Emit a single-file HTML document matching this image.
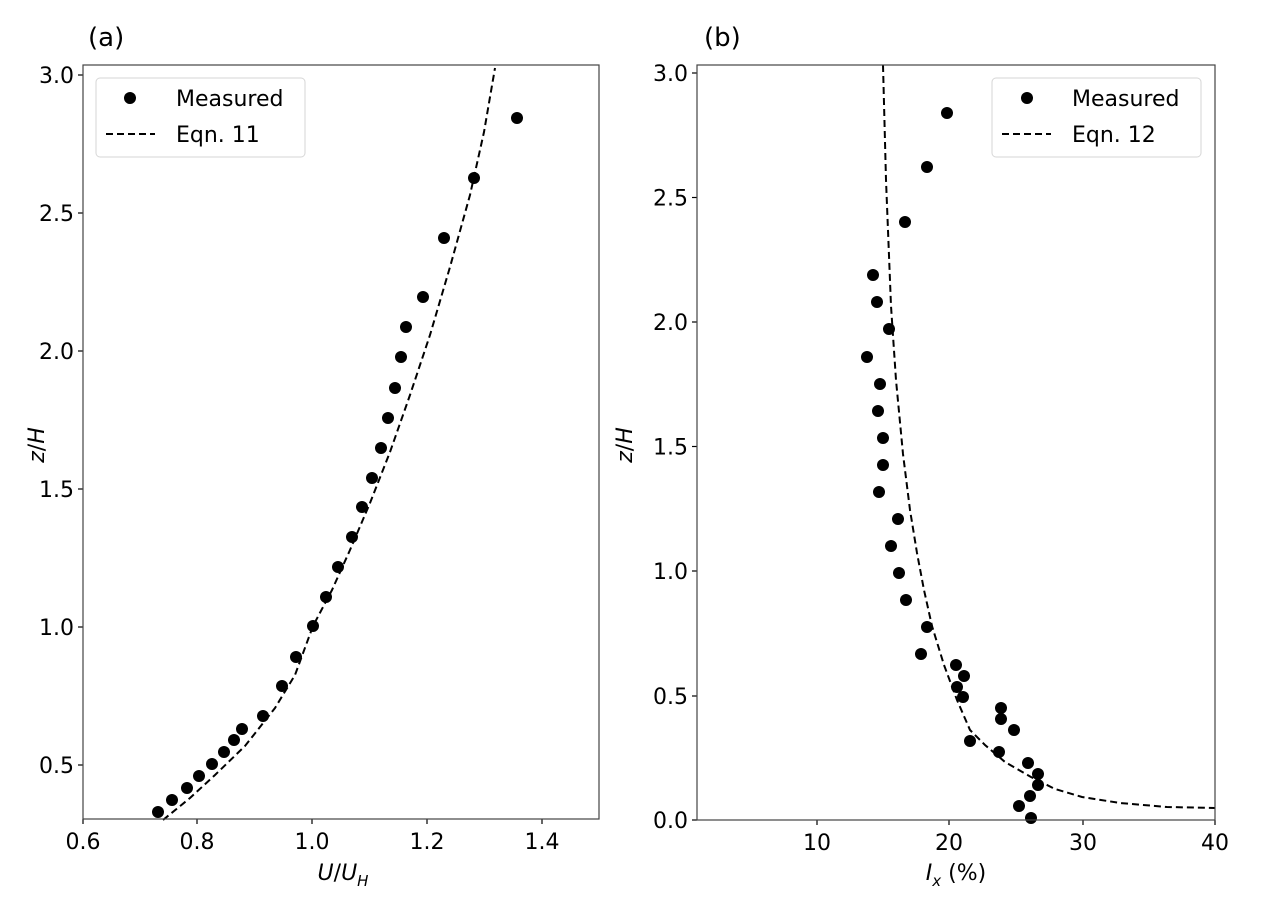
<!DOCTYPE html>
<html><head><meta charset="utf-8"><style>
body{margin:0;background:#fff}
svg text{font-family:"DejaVu Sans","Liberation Sans",sans-serif;fill:#000}
</style></head><body>
<svg width="1280" height="898" xmlns="http://www.w3.org/2000/svg">
<rect width="1280" height="898" fill="#fff"/>
<text x="88" y="46" font-size="26">(a)</text>
<text x="704" y="46" font-size="26">(b)</text>

<!-- Left panel -->
<g stroke="#000" stroke-width="1.2">
<line x1="83" y1="819" x2="83" y2="824"/><line x1="197" y1="819" x2="197" y2="824"/><line x1="312" y1="819" x2="312" y2="824"/><line x1="427" y1="819" x2="427" y2="824"/><line x1="542" y1="819" x2="542" y2="824"/>
<line x1="78" y1="75" x2="83" y2="75"/><line x1="78" y1="213" x2="83" y2="213"/><line x1="78" y1="351" x2="83" y2="351"/><line x1="78" y1="489" x2="83" y2="489"/><line x1="78" y1="627" x2="83" y2="627"/><line x1="78" y1="765" x2="83" y2="765"/>
</g>
<g font-size="22" text-anchor="middle">
<text x="83" y="849">0.6</text><text x="197" y="849">0.8</text><text x="312" y="849">1.0</text><text x="427" y="849">1.2</text><text x="542" y="849">1.4</text>
</g>
<g font-size="22" text-anchor="end">
<text x="74" y="83">3.0</text><text x="74" y="221">2.5</text><text x="74" y="359">2.0</text><text x="74" y="497">1.5</text><text x="74" y="635">1.0</text><text x="74" y="773">0.5</text>
</g>
<text x="343" y="880" font-size="22" text-anchor="middle"><tspan font-style="italic">U</tspan>/<tspan font-style="italic">U</tspan><tspan font-style="italic" font-size="15" dy="6">H</tspan></text>
<text transform="translate(44,445) rotate(-90)" font-size="22" text-anchor="middle" font-style="italic">z<tspan font-style="normal">/</tspan>H</text>
<polyline fill="none" stroke="#000" stroke-width="2" stroke-dasharray="7,4" points="163,820 190,798 215,775 245,746 275,708 295,675 313,626 332,590 350,550 370,503 390,452 410,395 430,335 450,267 470,195 484,132 495,68"/>
<g fill="#000">
<circle cx="158" cy="812" r="6"/><circle cx="172" cy="800" r="6"/><circle cx="187" cy="788" r="6"/><circle cx="199" cy="776" r="6"/><circle cx="212" cy="764" r="6"/><circle cx="224" cy="752" r="6"/><circle cx="234" cy="740" r="6"/><circle cx="242" cy="729" r="6"/><circle cx="263" cy="716" r="6"/><circle cx="282" cy="686" r="6"/><circle cx="296" cy="657" r="6"/><circle cx="313" cy="626" r="6"/><circle cx="326" cy="597" r="6"/><circle cx="338" cy="567" r="6"/><circle cx="352" cy="537" r="6"/><circle cx="362" cy="507" r="6"/><circle cx="372" cy="478" r="6"/><circle cx="381" cy="448" r="6"/><circle cx="388" cy="418" r="6"/><circle cx="395" cy="388" r="6"/><circle cx="401" cy="357" r="6"/><circle cx="406" cy="327" r="6"/><circle cx="423" cy="297" r="6"/><circle cx="444" cy="238" r="6"/><circle cx="474" cy="178" r="6"/><circle cx="517" cy="118" r="6"/>
</g>
<rect x="83" y="65" width="516" height="754" fill="none" stroke="#444" stroke-width="1.2"/>
<rect x="96" y="78" width="209" height="79" rx="4" fill="#fff" fill-opacity="0.8" stroke="#d6d6d6" stroke-width="1"/>
<circle cx="130" cy="98" r="6" fill="#000"/>
<line x1="106" y1="134" x2="155" y2="134" stroke="#000" stroke-width="2" stroke-dasharray="7,4"/>
<text x="176" y="106" font-size="22">Measured</text>
<text x="176" y="142" font-size="22">Eqn. 11</text>

<!-- Right panel -->
<g stroke="#000" stroke-width="1.2">
<line x1="817" y1="820" x2="817" y2="825"/><line x1="949" y1="820" x2="949" y2="825"/><line x1="1083" y1="820" x2="1083" y2="825"/><line x1="1215" y1="820" x2="1215" y2="825"/>
<line x1="692" y1="820" x2="697" y2="820"/><line x1="692" y1="696" x2="697" y2="696"/><line x1="692" y1="571" x2="697" y2="571"/><line x1="692" y1="446.5" x2="697" y2="446.5"/><line x1="692" y1="322" x2="697" y2="322"/><line x1="692" y1="197.5" x2="697" y2="197.5"/><line x1="692" y1="73" x2="697" y2="73"/>
</g>
<g font-size="22" text-anchor="middle">
<text x="817" y="850">10</text><text x="949" y="850">20</text><text x="1083" y="850">30</text><text x="1215" y="850">40</text>
</g>
<g font-size="22" text-anchor="end">
<text x="688" y="828">0.0</text><text x="688" y="704">0.5</text><text x="688" y="579">1.0</text><text x="688" y="454.5">1.5</text><text x="688" y="330">2.0</text><text x="688" y="205.5">2.5</text><text x="688" y="81">3.0</text>
</g>
<text x="956" y="880" font-size="22" text-anchor="middle"><tspan font-style="italic">I</tspan><tspan font-style="italic" font-size="15" dy="6">x</tspan><tspan dy="-6"> (%)</tspan></text>
<text transform="translate(632,445) rotate(-90)" font-size="22" text-anchor="middle" font-style="italic">z<tspan font-style="normal">/</tspan>H</text>
<polyline fill="none" stroke="#000" stroke-width="2" stroke-dasharray="7,4" points="883,65 886,180 891,306 896,380 903,454 910,510 917,553 924,590 932,626 944,665 957,700 970,730 985,745 1005,762 1031,777 1055,789 1082,797 1120,803 1167,807 1215,808"/>
<g fill="#000">
<circle cx="947" cy="113" r="6"/><circle cx="927" cy="167" r="6"/><circle cx="905" cy="222" r="6"/><circle cx="873" cy="275" r="6"/><circle cx="877" cy="302" r="6"/><circle cx="889" cy="329" r="6"/><circle cx="867" cy="357" r="6"/><circle cx="880" cy="384" r="6"/><circle cx="878" cy="411" r="6"/><circle cx="883" cy="438" r="6"/><circle cx="883" cy="465" r="6"/><circle cx="879" cy="492" r="6"/><circle cx="898" cy="519" r="6"/><circle cx="891" cy="546" r="6"/><circle cx="899" cy="573" r="6"/><circle cx="906" cy="600" r="6"/><circle cx="927" cy="627" r="6"/><circle cx="921" cy="654" r="6"/><circle cx="956" cy="665" r="6"/><circle cx="964" cy="676" r="6"/><circle cx="957" cy="687" r="6"/><circle cx="963" cy="697" r="6"/><circle cx="970" cy="741" r="6"/>
<circle cx="1001" cy="708" r="6"/><circle cx="1001" cy="719" r="6"/><circle cx="1014" cy="730" r="6"/><circle cx="999" cy="752" r="6"/><circle cx="1028" cy="763" r="6"/><circle cx="1038" cy="774" r="6"/><circle cx="1038" cy="785" r="6"/><circle cx="1030" cy="796" r="6"/><circle cx="1019" cy="806" r="6"/><circle cx="1031" cy="818" r="6"/>
</g>
<rect x="697" y="65" width="518" height="755" fill="none" stroke="#444" stroke-width="1.2"/>
<rect x="992" y="78" width="209" height="79" rx="4" fill="#fff" fill-opacity="0.8" stroke="#d6d6d6" stroke-width="1"/>
<circle cx="1027" cy="98" r="6" fill="#000"/>
<line x1="1002" y1="134" x2="1051" y2="134" stroke="#000" stroke-width="2" stroke-dasharray="7,4"/>
<text x="1072" y="106" font-size="22">Measured</text>
<text x="1072" y="142" font-size="22">Eqn. 12</text>
</svg>
</body></html>
